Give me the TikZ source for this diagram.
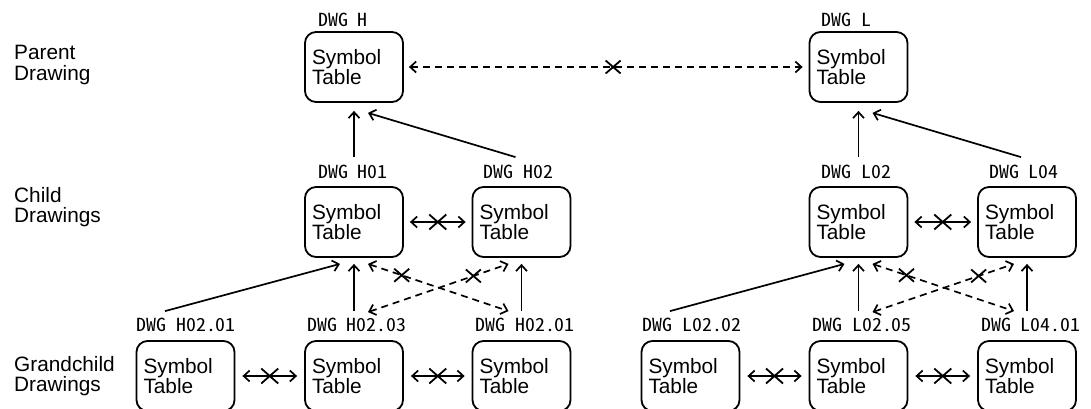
\documentclass[tikz,border=0pt]{standalone}
\usepackage{fontspec}
\setmainfont{Liberation Sans}
\newfontfamily\dwgfont[CharacterWidth=Half,FakeStretch=1.1]{Noto Sans CJK JP}
\usetikzlibrary{arrows.meta,shapes.misc,calc}
\tikzset{
  tbl/.style={draw, line width=1.8pt, rounded corners=11pt, minimum width=98pt, minimum height=70pt,
    text width=84pt, inner xsep=7pt, inner ysep=0pt, align=left, font=\fontsize{20.8}{20}\selectfont},
  dwg/.style={anchor=base west, inner sep=0pt, font=\dwgfont\fontsize{18}{18}\selectfont},
  lvl/.style={anchor=north west, inner sep=0pt, align=left, font=\fontsize{20.8}{20.5}\selectfont},
  tip/.tip={Straight Barb[length=6pt,width=11pt]},
  conn/.style={line width=1.7pt, -tip},
  both/.style={line width=1.7pt, tip-tip},
  dsh/.style={dash pattern=on 7pt off 5pt},
  xmark/.style={cross out, draw, solid, arrows=-, shorten <=0pt, shorten >=0pt, line width=1.8pt,
    minimum width=15pt, minimum height=13pt, inner sep=0pt, outer sep=0pt},
  bigx/.style={xmark, minimum width=17pt, minimum height=15pt},
}
\begin{document}
\begin{tikzpicture}[x=1pt,y=-1pt]
\useasboundingbox (0,0) rectangle (1091,408);
\clip (0,0) rectangle (1091,408);

% level labels
\node[lvl] (lp) at (14,45) {Parent\\Drawing};
\node[lvl] (lc) at (14,187) {Child\\Drawings};
\node[lvl] (lg) at (14,356) {Grandchild\\Drawings};

% boxes
\node[tbl] (H)   at (354,67)    {Symbol\\Table};
\node[tbl] (L)   at (858.5,67)  {Symbol\\Table};
\node[tbl] (H01) at (354,222)   {Symbol\\Table};
\node[tbl] (H02) at (521.5,222) {Symbol\\Table};
\node[tbl] (L02) at (858.5,222) {Symbol\\Table};
\node[tbl] (L04) at (1027,222)  {Symbol\\Table};
\node[tbl] (G1)  at (185.5,376) {Symbol\\Table};
\node[tbl] (G2)  at (354,376)   {Symbol\\Table};
\node[tbl] (G3)  at (521.5,376) {Symbol\\Table};
\node[tbl] (G4)  at (690.5,376) {Symbol\\Table};
\node[tbl] (G5)  at (858.5,376) {Symbol\\Table};
\node[tbl] (G6)  at (1027,376)  {Symbol\\Table};

% drawing labels
\node[dwg] (tH)   at ($(H.north west)+(14,-5)$)   {DWG H};
\node[dwg] (tL)   at ($(L.north west)+(13,-5)$)   {DWG L};
\node[dwg] (tH01) at ($(H01.north west)+(14,-8)$) {DWG H01};
\node[dwg] (tH02) at ($(H02.north west)+(12,-8)$) {DWG H02};
\node[dwg] (tL02) at ($(L02.north west)+(13,-8)$) {DWG L02};
\node[dwg] (tL04) at ($(L04.north west)+(12,-8)$) {DWG L04};
\node[dwg] (tG1)  at ($(G1.north west)+(1,-9)$)   {DWG H02.01};
\node[dwg] (tG2)  at ($(G2.north west)+(3,-9)$)   {DWG H02.03};
\node[dwg] (tG3)  at ($(G3.north west)+(4,-9)$)   {DWG H02.01};
\node[dwg] (tG4)  at ($(G4.north west)+(2,-9)$)   {DWG L02.02};
\node[dwg] (tG5)  at ($(G5.north west)+(4,-9)$)   {DWG L02.05};
\node[dwg] (tG6)  at ($(G6.north west)+(4,-9)$)   {DWG L04.01};

% parent link
\draw[both,dsh,shorten <=5pt,shorten >=6pt] (H.east) -- (L.west) node[xmark,pos=0.517] (xp) {};

% child row links
\draw[both,shorten <=6pt,shorten >=6pt] (H01.east) -- (H02.west) node[bigx,midway] (xc1) {};
\draw[both,shorten <=6pt,shorten >=6pt] (L02.east) -- (L04.west) node[bigx,midway] (xc2) {};

% grandchild row links
\draw[both,shorten <=7pt,shorten >=7pt] (G1.east) -- (G2.west) node[bigx,midway] (xg1) {};
\draw[both,shorten <=7pt,shorten >=7pt] (G2.east) -- (G3.west) node[bigx,midway] (xg2) {};
\draw[both,shorten <=7pt,shorten >=7pt] (G4.east) -- (G5.west) node[bigx,midway] (xg3) {};
\draw[both,shorten <=7pt,shorten >=7pt] (G5.east) -- (G6.west) node[bigx,midway] (xg4) {};

% child to parent
\draw[conn] ($(H01.north)+(0,-29)$) -- ($(H.south)+(0,8)$);
\draw[conn] ($(H02.north)+(-6,-29)$) -- ($(H.south)+(14,10)$);
\draw[conn] ($(L02.north)+(0,-29)$) -- ($(L.south)+(0,8)$);
\draw[conn] ($(L04.north)+(-6,-29)$) -- ($(L.south)+(14,10)$);

% grandchild to child (H side)
\draw[conn] ($(G1.north)+(-20.5,-29)$) -- ($(H01.south)+(-14,6)$);
\draw[conn] ($(G2.north)+(0,-29)$) -- ($(H01.south)+(0,6)$);
\draw[conn] ($(G3.north)+(0,-29)$) -- ($(H02.south)+(0,6)$);
\draw[both,dsh] ($(H01.south)+(14,6)$) -- ($(G3.north)+(-13,-29)$) node[xmark,pos=0.24] (xd1) {};
\draw[both,dsh] ($(G2.north)+(14,-28)$) -- ($(H02.south)+(-13,6)$) node[xmark,pos=0.75] (xd2) {};

% grandchild to child (L side)
\draw[conn] ($(G4.north)+(-20.5,-29)$) -- ($(L02.south)+(-14,6)$);
\draw[conn] ($(G5.north)+(0,-29)$) -- ($(L02.south)+(0,6)$);
\draw[conn] ($(G6.north)+(0,-29)$) -- ($(L04.south)+(0,6)$);
\draw[both,dsh] ($(L02.south)+(14,6)$) -- ($(G6.north)+(-13,-29)$) node[xmark,pos=0.24] (xd3) {};
\draw[both,dsh] ($(G5.north)+(14,-28)$) -- ($(L04.south)+(-13,6)$) node[xmark,pos=0.75] (xd4) {};
\end{tikzpicture}
\end{document}
